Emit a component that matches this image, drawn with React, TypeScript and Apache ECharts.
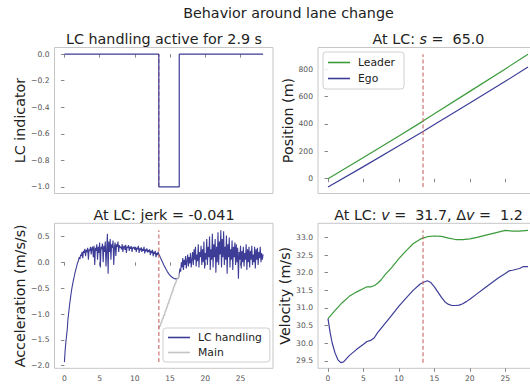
import React, { useEffect, useRef } from "react";
import * as echarts from "echarts";

// ---------- data ----------
const LC_START = 13.4;
const LC_DURATION = 2.9;
const GAP_AT_LC = "65.0";
const JERK_AT_LC = "-0.041";
const V_AT_LC = "31.7";
const DV_AT_LC = "1.2";

const X_TICKS = [0, 5, 10, 15, 20, 25];
const INDICATOR_TICKS = [-1, -0.8, -0.6, -0.4, -0.2, 0];
const POSITION_TICKS = [0, 200, 400, 600, 800];
const ACC_TICKS = [-2, -1.5, -1, -0.5, 0, 0.5];
const VEL_TICKS = [29.5, 30, 30.5, 31, 31.5, 32, 32.5, 33];

const indicatorTime = [0, 13.4, 13.4, 16.3, 16.3, 28.2];
const indicatorValue = [0, 0, -1, -1, 0, 0];

const positionTime = [0, 5, 10, 13.4, 15, 20, 25, 28.2];
const leaderPosition = [0, 154, 312, 420, 473, 637, 801, 908];
const egoPosition = [-60, 88, 240, 345, 396, 552, 710, 815];

// acceleration sampled every ACC_DT seconds starting at t = 0
const ACC_DT = 0.1;
const lcHandlingAcc = [
  // 0.0 .. 1.9
  -1.93, -1.7, -1.55, -1.42, -1.3, -1.1, -0.98, -0.86, -0.75, -0.65,
  -0.55, -0.47, -0.4, -0.33, -0.27, -0.2, -0.15, -0.1, -0.04, 0.0,
  // 2.0 .. 3.9
  0.04, 0.1, 0.06, 0.15, 0.12, 0.2, 0.08, 0.22, 0.18, 0.26,
  0.12, 0.24, 0.2, 0.28, 0.05, 0.25, 0.22, 0.3, 0.15, 0.27,
  // 4.0 .. 5.9
  0.3, 0.1, 0.32, -0.05, 0.28, 0.22, 0.35, 0.05, 0.3, 0.18,
  0.38, -0.1, 0.3, 0.25, 0.36, 0.0, 0.32, 0.2, 0.4, -0.08,
  // 6.0 .. 7.9
  0.25, 0.55, -0.22, 0.4, 0.2, 0.45, 0.05, 0.35, 0.28, 0.42,
  -0.05, 0.3, 0.38, 0.12, 0.35, 0.3, 0.4, 0.2, 0.33, 0.28,
  // 8.0 .. 9.9
  0.3, 0.25, 0.35, 0.2, 0.3, 0.32, 0.24, 0.34, 0.18, 0.3,
  0.28, 0.33, 0.22, 0.3, 0.26, 0.31, 0.2, 0.29, 0.27, 0.3,
  // 10.0 .. 11.9
  0.24, 0.3, 0.2, 0.28, 0.25, 0.32, 0.18, 0.27, 0.23, 0.29,
  0.2, 0.26, 0.22, 0.3, 0.17, 0.25, 0.21, 0.27, 0.19, 0.24,
  // 12.0 .. 13.3
  0.2, 0.25, 0.14, 0.22, 0.18, 0.24, 0.12, 0.2, 0.16, 0.22,
  0.1, 0.18, 0.14, 0.2,
  // 13.4 .. 16.2 (LC handling active)
  0.16, 0.13, 0.1, 0.07, 0.04, 0.01, -0.02, -0.05, -0.08, -0.1,
  -0.13, -0.15, -0.18, -0.2, -0.22, -0.24, -0.25, -0.27, -0.28, -0.29,
  -0.3, -0.31, -0.31, -0.32, -0.32, -0.32, -0.32, -0.31, -0.3,
  // 16.3 .. 18.2
  -0.22, -0.12, -0.18, 0.0, -0.1, 0.08, -0.15, 0.05, -0.05, 0.12,
  -0.12, 0.02, 0.15, -0.08, 0.1, -0.02, 0.18, -0.1, 0.05, 0.2,
  // 18.3 .. 20.2
  -0.05, 0.25, 0.05, 0.3, -0.08, 0.15, 0.02, 0.35, -0.1, 0.2,
  0.1, 0.32, -0.05, 0.25, 0.0, 0.4, -0.12, 0.18, 0.05, 0.45,
  // 20.3 .. 22.2
  -0.05, 0.3, 0.1, 0.5, -0.15, 0.25, 0.05, 0.55, -0.1, 0.35,
  0.1, 0.45, -0.2, 0.3, 0.0, 0.58, -0.05, 0.4, 0.15, 0.62,
  // 22.3 .. 24.2
  -0.1, 0.45, 0.1, 0.6, -0.05, 0.3, 0.05, 0.52, -0.22, 0.35,
  0.1, 0.48, -0.1, 0.25, 0.05, 0.42, -0.15, 0.3, 0.1, 0.38,
  // 24.3 .. 26.2
  -0.05, 0.35, 0.0, 0.28, -0.32, 0.2, 0.05, 0.32, -0.12, 0.22,
  0.0, 0.3, -0.08, 0.18, 0.05, 0.35, -0.15, 0.25, 0.0, 0.3,
  // 26.3 .. 28.2
  -0.1, 0.22, 0.05, 0.32, -0.05, 0.15, 0.0, 0.3, -0.12, 0.25,
  0.05, 0.28, -0.05, 0.2, 0.08, 0.3, 0.0, 0.18, 0.05, 0.15,
];
// main controller acceleration during the LC window, from LC_START every ACC_DT
const mainAcc = [
  -1.28, -1.22, -1.24, -1.17, -1.16, -1.1, -1.09, -1.02, -1.03, -0.95,
  -0.94, -0.88, -0.86, -0.8, -0.79, -0.72, -0.71, -0.64, -0.62, -0.57,
  -0.55, -0.48, -0.47, -0.41, -0.4, -0.35, -0.33, -0.3, -0.28, -0.22,
];

const leaderVelTime = [0, 1, 2, 3, 4, 5, 5.5, 6, 6.5, 7, 7.5, 8, 9, 10, 11, 12, 13, 13.4, 14, 15, 16, 17, 18, 19, 20, 21, 22, 23, 24, 25, 26, 27, 28.2];
const leaderVelocity = [30.7, 30.93, 31.15, 31.33, 31.45, 31.55, 31.6, 31.6, 31.63, 31.7, 31.8, 31.93, 32.15, 32.4, 32.62, 32.82, 32.95, 32.98, 33.02, 33.04, 33.03, 32.98, 32.94, 32.94, 32.96, 33.0, 33.05, 33.1, 33.15, 33.2, 33.18, 33.18, 33.2];
const egoVelTime = [0, 0.3, 0.6, 1, 1.4, 1.8, 2.2, 3, 4, 5, 5.5, 6, 6.5, 7, 8, 9, 10, 11, 12, 13, 13.4, 14, 14.5, 15, 15.5, 16, 16.5, 17, 17.5, 18, 18.5, 19, 19.5, 20, 21, 22, 23, 24, 25, 25.5, 26, 27, 27.5, 28.2];
const egoVelocity = [30.7, 30.3, 30.0, 29.72, 29.53, 29.45, 29.47, 29.65, 29.82, 29.97, 30.05, 30.08, 30.15, 30.3, 30.55, 30.8, 31.05, 31.28, 31.5, 31.68, 31.72, 31.77, 31.72, 31.6, 31.45, 31.3, 31.17, 31.1, 31.07, 31.07, 31.08, 31.12, 31.18, 31.25, 31.4, 31.55, 31.7, 31.85, 31.98, 32.05, 32.07, 32.12, 32.17, 32.17];

// ---------- styling ----------
const FONT = "'DejaVu Sans', sans-serif";
const BLUE = "#3d3d98";
const GREEN = "#3b9b3b";
const GRAY = "#c4c4c4";
const DASH = "rgba(196, 96, 96, 0.75)";
const X_MIN = -1.41;
const X_MAX = 29.61;

const pairs = (xs: number[], ys: number[]) => xs.map((x, i) => [x, ys[i]]);
const fmt = (v: number, d: number) => v.toFixed(d).replace("-", "\u2212");

function xAxis(gridIndex: number, labels: boolean) {
  return {
    type: "value",
    gridIndex,
    min: X_MIN,
    max: X_MAX,
    axisLine: { show: false },
    splitLine: { show: false },
    axisTick: { show: true, length: 3.5, lineStyle: { color: "#888" }, customValues: X_TICKS },
    axisLabel: {
      show: labels,
      customValues: X_TICKS,
      fontSize: 7.6,
      color: "#555",
      fontFamily: FONT,
      margin: 6,
      formatter: (v: number) => fmt(v, 0),
    },
  };
}

function yAxis(gridIndex: number, min: number, max: number, ticks: number[], dec: number, name: string, gap: number) {
  return {
    type: "value",
    gridIndex,
    min,
    max,
    name,
    nameLocation: "middle",
    nameGap: gap,
    nameTextStyle: { fontSize: 14.3, color: "#222", fontFamily: FONT },
    axisLine: { show: false },
    splitLine: { show: false },
    axisTick: { show: true, length: 3.5, lineStyle: { color: "#888" }, customValues: ticks },
    axisLabel: {
      customValues: ticks,
      fontSize: 7.6,
      color: "#555",
      fontFamily: FONT,
      margin: 5,
      formatter: (v: number) => fmt(v, dec),
    },
  };
}

function line(name: string, data: number[][], color: string, axis: number, width = 1.2, z = 2) {
  return {
    type: "line",
    name,
    data,
    xAxisIndex: axis,
    yAxisIndex: axis,
    showSymbol: false,
    symbol: "none",
    silent: true,
    z,
    itemStyle: { color },
    lineStyle: { color, width },
  };
}

function dashed(values: number[], axis: number, z = 3) {
  return {
    type: "line",
    data: [
      [LC_START, Math.min(...values)],
      [LC_START, Math.max(...values)],
    ],
    xAxisIndex: axis,
    yAxisIndex: axis,
    showSymbol: false,
    symbol: "none",
    silent: true,
    z,
    lineStyle: { color: DASH, width: 1.4, type: [4, 2.5] },
  };
}

function title(x: number, y: number, text: string) {
  return {
    type: "text",
    x,
    y,
    silent: true,
    style: {
      text,
      fontSize: 14.3,
      fontFamily: FONT,
      fill: "#222",
      align: "center",
      verticalAlign: "middle",
      textAlign: "center",
      textVerticalAlign: "middle",
      rich: { i: { fontStyle: "italic", fontSize: 14.3, fontFamily: FONT, fill: "#222" } },
    },
  };
}

export default function App() {
  const ref = useRef<HTMLDivElement>(null);

  useEffect(() => {
    if (!ref.current) return;
    const chart = echarts.init(ref.current, undefined, { renderer: "svg" });

    const accData = lcHandlingAcc.map((a, i) => [+(i * ACC_DT).toFixed(2), a]);
    const mainData = mainAcc.map((a, i) => [+(LC_START + i * ACC_DT).toFixed(2), a]);

    const gridStyle = { show: true, borderColor: "#c6c6c6", borderWidth: 1, backgroundColor: "transparent" };
    const legendBase = {
      orient: "vertical",
      icon: "rect",
      itemWidth: 22,
      itemHeight: 1.6,
      borderColor: "#d0d0d0",
      borderWidth: 1,
      borderRadius: 3,
      backgroundColor: "rgba(255,255,255,0.85)",
      textStyle: { fontSize: 10.8, color: "#222", fontFamily: FONT, lineHeight: 13, padding: [0, 0, 0, 3] },
      selectedMode: false,
    };

    const option: any = {
      animation: false,
      backgroundColor: "#fff",
      textStyle: { fontFamily: FONT },
      grid: [
        { left: 54.5, top: 47.5, width: 218.5, height: 146, ...gridStyle },
        { left: 318, top: 47.5, width: 220, height: 146, ...gridStyle },
        { left: 54.5, top: 223.3, width: 218.5, height: 145, ...gridStyle },
        { left: 318, top: 223.3, width: 220, height: 145, ...gridStyle },
      ],
      xAxis: [xAxis(0, false), xAxis(1, false), xAxis(2, true), xAxis(3, true)],
      yAxis: [
        yAxis(0, -1.05, 0.05, INDICATOR_TICKS, 1, "LC indicator", 25),
        yAxis(1, -108, 957, POSITION_TICKS, 0, "Position (m)", 21),
        yAxis(2, -2.05, 0.754, ACC_TICKS, 1, "Acceleration (m/s/s)", 26),
        yAxis(3, 29.29, 33.4, VEL_TICKS, 1, "Velocity (m/s)", 23),
      ],
      legend: [
        { ...legendBase, data: ["Leader", "Ego"], left: 323, top: 52, itemGap: 3, padding: [4, 9, 4, 5] },
        { ...legendBase, data: ["LC handling", "Main"], left: 163, top: 328, itemGap: 2, padding: [3, 8, 3, 5] },
      ],
      graphic: [
        title(288.5, 12.5, "Behavior around lane change"),
        title(164, 38.5, `LC handling active for ${LC_DURATION} s`),
        title(428.5, 38.5, `At LC: {i|s} =  ${GAP_AT_LC}`),
        title(164, 215, `At LC: jerk = ${JERK_AT_LC}`),
        title(428.5, 215, `At LC: {i|v} =  ${V_AT_LC}, \u0394{i|v} =  ${DV_AT_LC}`),
      ],
      series: [
        dashed(indicatorValue, 0, 1),
        line("LC indicator", pairs(indicatorTime, indicatorValue), BLUE, 0, 1.2, 2),
        line("Leader", pairs(positionTime, leaderPosition), GREEN, 1),
        line("Ego", pairs(positionTime, egoPosition), BLUE, 1),
        dashed([...leaderPosition, ...egoPosition], 1),
        line("LC handling", accData, BLUE, 2, 1.1),
        line("Main", mainData, GRAY, 2, 1.5),
        dashed([...lcHandlingAcc, ...mainAcc], 2),
        line("Leader", pairs(leaderVelTime, leaderVelocity), GREEN, 3),
        line("Ego", pairs(egoVelTime, egoVelocity), BLUE, 3),
        dashed([...leaderVelocity, ...egoVelocity], 3),
      ],
    };

    chart.setOption(option);
    return () => chart.dispose();
  }, []);

  return (
    <div
      style={{
        position: "fixed",
        left: 0,
        top: 0,
        width: 530,
        height: 389,
        overflow: "hidden",
        background: "#fff",
      }}
    >
      <div ref={ref} style={{ width: 545, height: 389 }} />
    </div>
  );
}
